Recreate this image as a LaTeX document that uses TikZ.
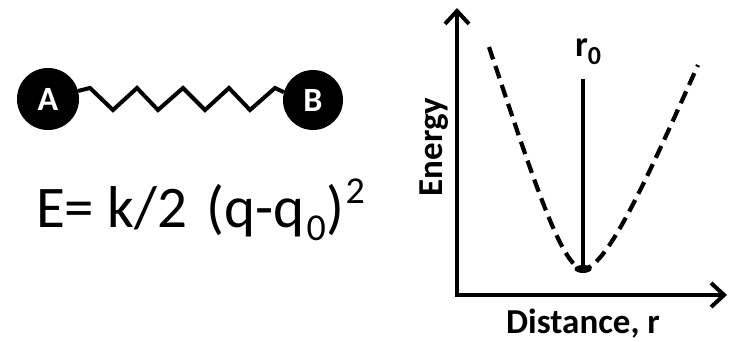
\documentclass[tikz,border=0pt]{standalone}
\usepackage{fontspec}
\setmainfont{Carlito}
\usetikzlibrary{arrows.meta}
\tikzset{
  ball/.style={circle, fill=black, draw=none, minimum size=62pt, inner sep=0pt,
    text=white, font=\fontsize{34}{34}\selectfont\bfseries},
  spring/.style={line width=4pt, line join=miter},
  axis/.style={line width=4pt, line join=miter, {Straight Barb[length=13pt,width=24pt]}-{Straight Barb[length=13pt,width=24pt]}},
  curve/.style={line width=4.2pt, dash pattern=on 13pt off 7pt},
  lbl/.style={font=\fontsize{35}{35}\selectfont\bfseries, inner sep=0pt},
}
\begin{document}
\begin{tikzpicture}[x=1pt,y=-1pt]
\useasboundingbox (0,0) rectangle (729,342);
% spring
\node[ball] (A) at (48,99) {A};
\node[ball, minimum size=60pt] (B) at (313,100) {B};
\draw[spring] (A.15) -- (90,88) -- (113,110) -- (137,88) -- (158,110) -- (183,88)
  -- (205,110) -- (229,88) -- (250,110) -- (275,88) -- (B.165);
% equation
\node[anchor=base west, inner sep=0pt, font=\fontsize{59}{59}\selectfont] (eq) at (36,228)
  {E= k/2\kern6pt{} (q-q\kern2pt\raisebox{-0.22em}{\fontsize{38}{38}\selectfont 0}\kern1pt)\kern1pt\raisebox{0.42em}{\fontsize{38}{38}\selectfont 2}};
% graph
\coordinate (O) at (457,295);
\coordinate (ytop) at (457,8);
\coordinate (xend) at (727,295);
\draw[axis] (ytop) -- (O) -- (xend);
\coordinate (L) at (489,47);
\coordinate (M) at (583,269);
\coordinate (R) at (698,65);
\draw[curve] (L) .. controls (533,178) and (562,269) .. (M)
  .. controls (607,269) and (650,172) .. (R);
\coordinate (top) at (583,79);
\draw[line width=4pt] (top) -- (M);
\fill (M) ellipse (8.5pt and 4pt);
\node[anchor=base, inner sep=0pt, font=\fontsize{36}{36}\selectfont\bfseries] (r0) at (588,57)
  {r\raisebox{-0.2em}{\fontsize{26}{26}\selectfont 0}};
\node[lbl, anchor=base, rotate=90] (en) at (442,147) {Energy};
\node[lbl, anchor=base] (dist) at (583,333) {Distance, r};
\end{tikzpicture}
\end{document}
